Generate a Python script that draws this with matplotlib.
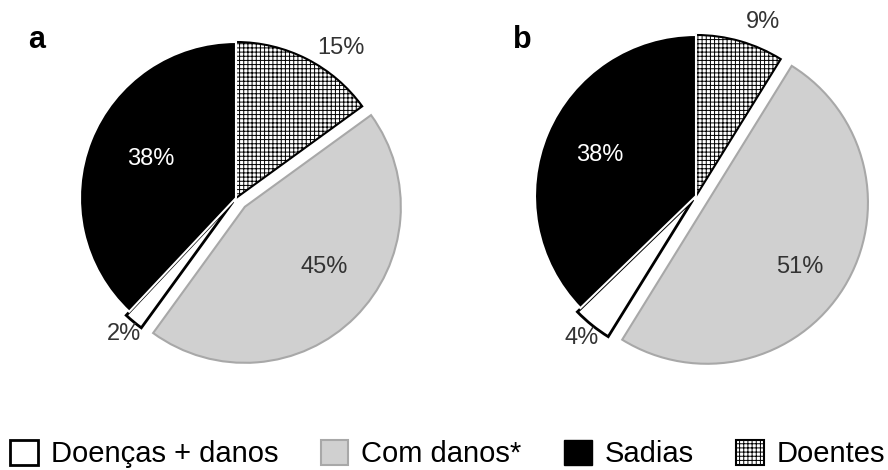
import matplotlib
matplotlib.use('Agg')
import matplotlib.pyplot as plt
from matplotlib.patches import Patch
import numpy as np

# slices in drawing order (clockwise from 12 o'clock)
categories = ['Doentes', 'Com danos*', 'Doenças + danos', 'Sadias']
values_a = [15, 45, 2, 38]
values_b = [9, 51, 4, 38]
panel_letters = ['a', 'b']
legend_order = ['Doenças + danos', 'Com danos*', 'Sadias', 'Doentes']

plt.rcParams['font.family'] = ['Liberation Sans', 'DejaVu Sans']
plt.rcParams['hatch.linewidth'] = 0.7

style = {
    'Doentes': dict(facecolor='white', edgecolor='black', hatch='++++', linewidth=1.5),
    'Com danos*': dict(facecolor='#d0d0d0', edgecolor='#a8a8a8', linewidth=1.5),
    'Doenças + danos': dict(facecolor='white', edgecolor='black', linewidth=2),
    'Sadias': dict(facecolor='black', edgecolor='white', linewidth=1.5),
}
explode = [0, 0.08, 0.03, 0]   # fraction of radius
label_color = ['#333333', '#333333', '#333333', 'white']


def draw_pie(ax, values, center, radius, dist, shift):
    # pie() takes explode in data units, so scale by the radius
    wedges, _ = ax.pie(values, explode=[e * radius for e in explode], startangle=90,
                       counterclock=False, center=center, radius=radius)
    for w, cat in zip(wedges, categories):
        w.set(**style[cat])
    for w, v, d, s, c in zip(wedges, values, dist, shift, label_color):
        ang = np.deg2rad((w.theta1 + w.theta2) / 2 + s)
        cx, cy = w.center
        ax.text(cx + d * w.r * np.cos(ang), cy + d * w.r * np.sin(ang), f'{v}%',
                ha='center', va='center', fontsize=17, color=c)


fig = plt.figure(figsize=(8.88, 4.70), dpi=100)
ax = fig.add_axes([0, 0, 1, 1])

draw_pie(ax, values_a, (236, 470 - 198), 156, [1.17, 0.64, 1.1, 0.6], [-8, 8, 0, -3])
draw_pie(ax, values_b, (696, 470 - 196), 161, [1.16, 0.7, 1.1, 0.65], [-5, -3, 0, 0])

ax.text(28, 470 - 48, panel_letters[0], fontsize=22, fontweight='bold', ha='left', va='baseline')
ax.text(513, 470 - 48, panel_letters[1], fontsize=22, fontweight='bold', ha='left', va='baseline')

ax.set_xlim(0, 888)
ax.set_ylim(0, 470)
ax.set_aspect('equal')
ax.axis('off')

handles = [Patch(**style[c]) for c in legend_order]
handles[2] = Patch(facecolor='black', edgecolor='black')
fig.legend(handles, legend_order, ncol=4, loc='center left',
           bbox_to_anchor=(10 / 888, 16 / 470), frameon=False, fontsize=21,
           handlelength=0.95, handleheight=0.95, handletextpad=0.45,
           columnspacing=1.45, borderpad=0, borderaxespad=0)

fig.savefig('out.png', dpi=100)
